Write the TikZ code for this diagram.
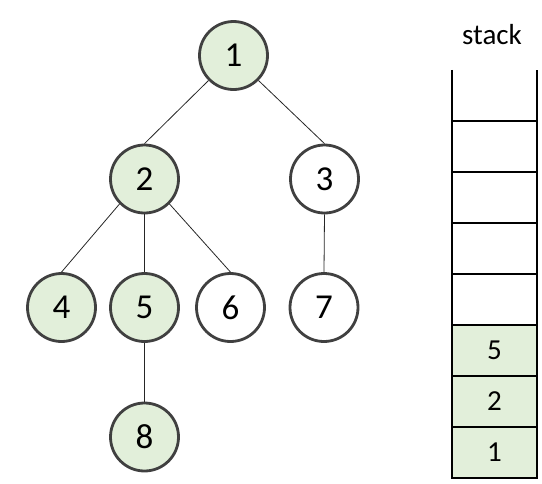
\documentclass[tikz,border=0pt]{standalone}
\usepackage{fontspec}
\setmainfont{Carlito}
\usetikzlibrary{positioning}
\definecolor{visitgreen}{HTML}{E2EFDA}
\definecolor{ringgray}{HTML}{404040}
\definecolor{edgegray}{HTML}{262626}

\begin{document}
\begin{tikzpicture}[x=1pt, y=-1pt,
  vertex/.style={circle, draw=ringgray, line width=2.8pt, minimum size=68pt,
                 inner sep=0pt, fill=white, font=\fontsize{35}{40}\selectfont},
  visited/.style={vertex, fill=visitgreen},
  edge/.style={draw=edgegray, line width=0.8pt},
  cell/.style={rectangle, minimum width=85pt, minimum height=51pt,
               inner sep=0pt, font=\fontsize{29}{34}\selectfont},
  wall/.style={black, line width=1.6pt}
]
\useasboundingbox (0,0) rectangle (542,483);

% tree
\node[visited] (n1) at (233.5,55.5) {1};
\node[visited] (n2) at (144.5,179) {2};
\node[vertex]  (n3) at (324.5,179) {3};
\node[visited] (n4) at (61.5,307.5) {4};
\node[visited] (n5) at (144.5,307.5) {5};
\node[vertex]  (n6) at (230.5,307.5) {6};
\node[vertex]  (n7) at (324,307.5) {7};
\node[visited] (n8) at (144.5,437) {8};

\draw[edge] (n1.south west) -- (n2.north);
\draw[edge] (n1.south east) -- (n3.north);
\draw[edge] (n2.south west) -- (n4.north);
\draw[edge] (n2.south) -- (n5.north);
\draw[edge] (n2.south east) -- (n6.north);
\draw[edge] (n3.south) -- (n7.north);
\draw[edge] (n5.south) -- (n8.north);

% stack
\foreach \i/\v in {0/1,1/2,2/5}
  \node[cell, fill=visitgreen] (s\i) at (494.5,452.5-51*\i) {\v};
\foreach \i in {3,...,7}
  \node[cell] (s\i) at (494.5,452.5-51*\i) {};
\draw[wall] (s7.north west) -- (s0.south west) -- (s0.south east) -- (s7.north east);
\foreach \i in {0,...,6}
  \draw[wall] (s\i.north west) -- (s\i.north east);
\node[font=\fontsize{29}{34}\selectfont] (stacklabel) at (492,35) {stack};

\end{tikzpicture}
\end{document}
